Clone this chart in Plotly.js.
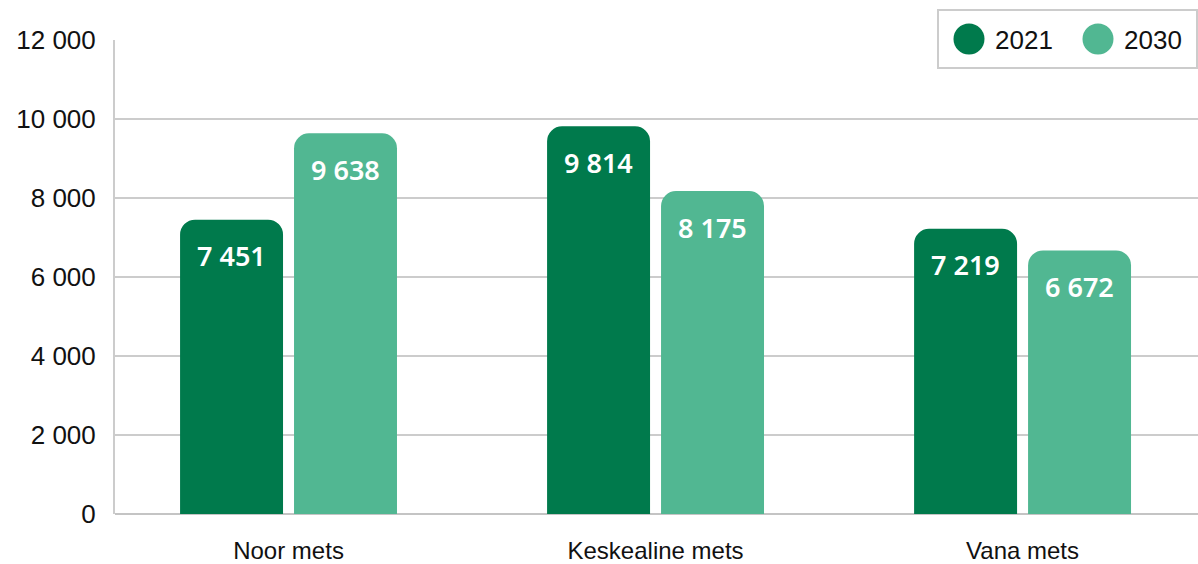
<!DOCTYPE html>
<html>
<head>
<meta charset="utf-8">
<script src="https://cdn.plot.ly/plotly-3.0.1.min.js"></script>
<style>html,body{margin:0;padding:0;background:#fff;}#chart{width:1198px;height:564px;}</style>
</head>
<body>
<div id="chart"></div>
<script>
const categories = ["Noor mets", "Keskealine mets", "Vana mets"];
const seriesNames = ["2021", "2030"];
const values2021 = [7451, 9814, 7219];
const values2030 = [9638, 8175, 6672];
const colors = ["#007A4C", "#51B792"];
const yTicks = [0, 2000, 4000, 6000, 8000, 10000, 12000];

const FONT = "Liberation Sans, Arial, sans-serif";
const LABELFONT = "Noto Sans, sans-serif";
function fmt(v){ return String(v).replace(/\B(?=(\d{3})+(?!\d))/g, " "); }

const series = [values2021, values2030];
const traces = series.map((vals, i) => ({
  type: "bar",
  name: seriesNames[i],
  x: categories,
  y: vals,
  marker: { color: colors[i], cornerradius: 15, line: { width: 0 } },
  showlegend: false,
  hoverinfo: "skip"
}));

const annotations = [];
const slotPx = 114;
series.forEach((vals, i) => {
  vals.forEach((v, j) => {
    annotations.push({
      x: categories[j], y: v, xref: "x", yref: "y",
      text: fmt(v), showarrow: false,
      xshift: (i === 0 ? -1 : 1) * slotPx / 2,
      yshift: -36, yanchor: "middle",
      font: { family: LABELFONT, size: 27, color: "#ffffff", weight: 600 }
    });
  });
});

// legend drawn manually (circle swatches)
const L = 115, W = 1083, T = 40, H = 474;
const px = x => (x - L) / W;
const py = y => (T + H - y) / H;
const shapes = [
  { type: "rect", xref: "paper", yref: "paper", x0: px(938), x1: px(1197), y0: py(68), y1: py(10),
    fillcolor: "#ffffff", line: { color: "#cccccc", width: 2 }, layer: "above" }
];
const legendX = [969, 1098];
seriesNames.forEach((n, i) => {
  shapes.push({ type: "circle", xref: "paper", yref: "paper", xsizemode: "pixel", ysizemode: "pixel",
    xanchor: px(legendX[i]), yanchor: py(39), x0: -15.5, x1: 15.5, y0: -15.5, y1: 15.5,
    fillcolor: colors[i], line: { width: 0 }, layer: "above" });
  annotations.push({ xref: "paper", yref: "paper", x: px(legendX[i] + 24), y: py(40),
    xanchor: "left", yanchor: "middle", text: n, showarrow: false,
    font: { family: FONT, size: 26, color: "#111111" } });
});

const layout = {
  width: 1198, height: 564,
  margin: { l: L, r: 0, t: T, b: 50, pad: 0 },
  paper_bgcolor: "#ffffff", plot_bgcolor: "#ffffff",
  separators: ", ",
  barmode: "group",
  bargap: 0.379,
  bargroupgap: 0.0965,
  font: { family: FONT, size: 24, color: "#111111" },
  xaxis: {
    type: "category",
    range: [-0.4728, 2.478],
    showgrid: false, zeroline: false,
    showline: false,
    ticks: "outside", ticklen: 15, tickcolor: "rgba(0,0,0,0)",
    tickfont: { family: FONT, size: 24, color: "#111111" }
  },
  yaxis: {
    range: [0, 12000],
    tickvals: yTicks,
    tickformat: ",d",
    showgrid: true, gridcolor: "#cccccc", gridwidth: 2,
    zeroline: true, zerolinecolor: "#c4c4c4", zerolinewidth: 2,
    showline: true, linecolor: "#cccccc", linewidth: 2,
    ticks: "outside", ticklen: 12, tickcolor: "rgba(0,0,0,0)",
    tickfont: { family: FONT, size: 26, color: "#111111" }
  },
  shapes: shapes,
  annotations: annotations,
  showlegend: false
};

Plotly.newPlot("chart", traces, layout, { displayModeBar: false, staticPlot: true });
</script>
</body>
</html>
